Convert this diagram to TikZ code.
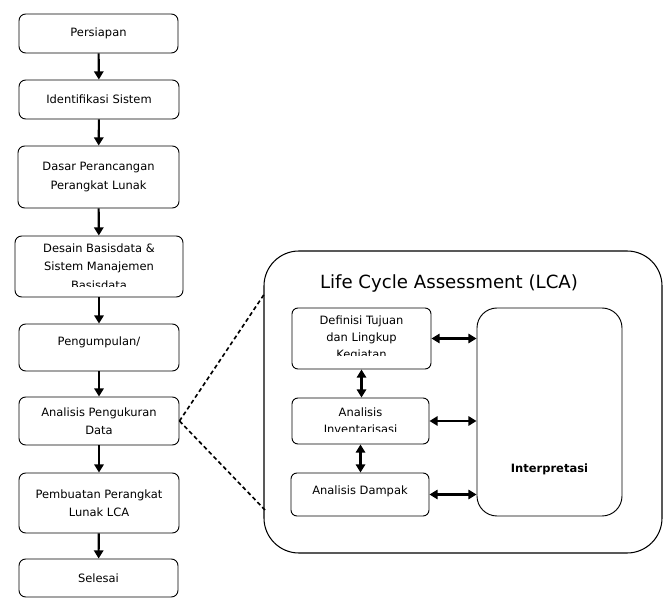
\documentclass[tikz,border=0pt]{standalone}
\usepackage{fontspec}
\setmainfont{DejaVu Sans}
\usetikzlibrary{arrows.meta}

\begin{document}
\begin{tikzpicture}[x=0.03cm, y=-0.03cm,
    box/.style={draw, rounded corners=0.2cm, line width=0.8pt, align=center,
      font={\fontsize{9.8}{15.8}\selectfont}, inner sep=1pt},
    ibox/.style={box, rounded corners=0.18cm, font={\fontsize{9.8}{14.5}\selectfont}},
    arr/.style={-{Triangle[length=7pt,width=8pt]}, line width=1.8pt},
    dbl/.style={{Triangle[length=7pt,width=8pt]}-{Triangle[length=7pt,width=8pt]}, line width=1.8pt},
    cut/.style={fill=white}]
  \useasboundingbox (0,0) rectangle (667,598);

  % alur kiri
  \node[box, minimum width=4.77cm, minimum height=1.17cm] (persiapan) at (98.5,33.5) {Persiapan};
  \node[box, minimum width=4.8cm, minimum height=1.17cm] (identifikasi) at (99,99.5) {Identifikasi Sistem};
  \node[box, minimum width=4.83cm, minimum height=1.86cm] (dasar) at (98.5,177) {Dasar Perancangan\\Perangkat Lunak};
  \node[box, minimum width=5.04cm, minimum height=1.83cm] (desain) at (99,266.5) {Desain Basisdata \&\\Sistem Manajemen\\Basisdata};
  \node[box, minimum width=4.8cm, minimum height=1.41cm, text depth=10.5pt] (pengumpulan) at (99,347.5) {Pengumpulan/};
  \node[box, minimum width=4.8cm, minimum height=1.44cm] (analisis) at (99,421) {Analisis Pengukuran\\Data};
  \node[box, minimum width=4.8cm, minimum height=1.8cm] (pembuatan) at (99,503) {Pembuatan Perangkat\\Lunak LCA};
  \node[box, minimum width=4.77cm, minimum height=1.14cm] (selesai) at (98.5,578) {Selesai};

  % baris ketiga terpotong
  \fill[cut] (30,287) rectangle (168,296);

  \draw[arr] (persiapan) -- (identifikasi);
  \draw[arr] (identifikasi) -- (dasar);
  \draw[arr] (dasar) -- (desain);
  \draw[arr] (desain) -- (pengumpulan);
  \draw[arr] (pengumpulan) -- (analisis);
  \draw[arr] (analisis) -- (pembuatan);
  \draw[arr] (pembuatan) -- (selesai);

  % kotak LCA
  \node[draw, rounded corners=1.05cm, line width=0.9pt, minimum width=11.94cm, minimum height=9.06cm] (lca) at (463,402) {};
  \node[font={\fontsize{15.5}{18}\selectfont}] (judul) at (449,283) {Life Cycle Assessment (LCA)};

  \node[ibox, minimum width=4.17cm, minimum height=1.83cm] (definisi) at (361.5,338.5) {Definisi Tujuan\\dan Lingkup\\Kegiatan};
  \node[ibox, minimum width=4.11cm, minimum height=1.38cm] (inventaris) at (360.5,421) {Analisis\\Inventarisasi};
  \node[ibox, minimum width=4.14cm, minimum height=1.29cm, text depth=8.2pt] (dampak) at (360,494.5) {Analisis Dampak};
  \node[box, rounded corners=0.6cm, minimum width=4.35cm, minimum height=6.24cm,
    label={[font={\fontsize{9.8}{12}\selectfont\bfseries}, yshift=-48.7pt]center:Interpretasi}] (interp) at (549.5,412) {};

  % teks terpotong
  \fill[cut] (300,356.5) rectangle (423,367.5);
  \fill[cut] (300,432) rectangle (421,442.5);

  \draw[dbl] (definisi.east) -- (definisi.east -| interp.west);
  \draw[dbl] (inventaris.east) -- (inventaris.east -| interp.west);
  \draw[dbl] (dampak.east) -- (dampak.east -| interp.west);
  \draw[dbl] (definisi.south) -- (definisi.south |- inventaris.north);
  \draw[dbl] (inventaris.south) -- (inventaris.south |- dampak.north);

  % garis putus-putus
  \coordinate (atas) at (265,293);
  \coordinate (bawah) at (265,510);
  \draw[line width=1.4pt, dash pattern=on 3.5pt off 2.5pt] (analisis.east) -- (atas);
  \draw[line width=1.4pt, dash pattern=on 3.5pt off 2.5pt] (analisis.east) -- (bawah);
\end{tikzpicture}
\end{document}
